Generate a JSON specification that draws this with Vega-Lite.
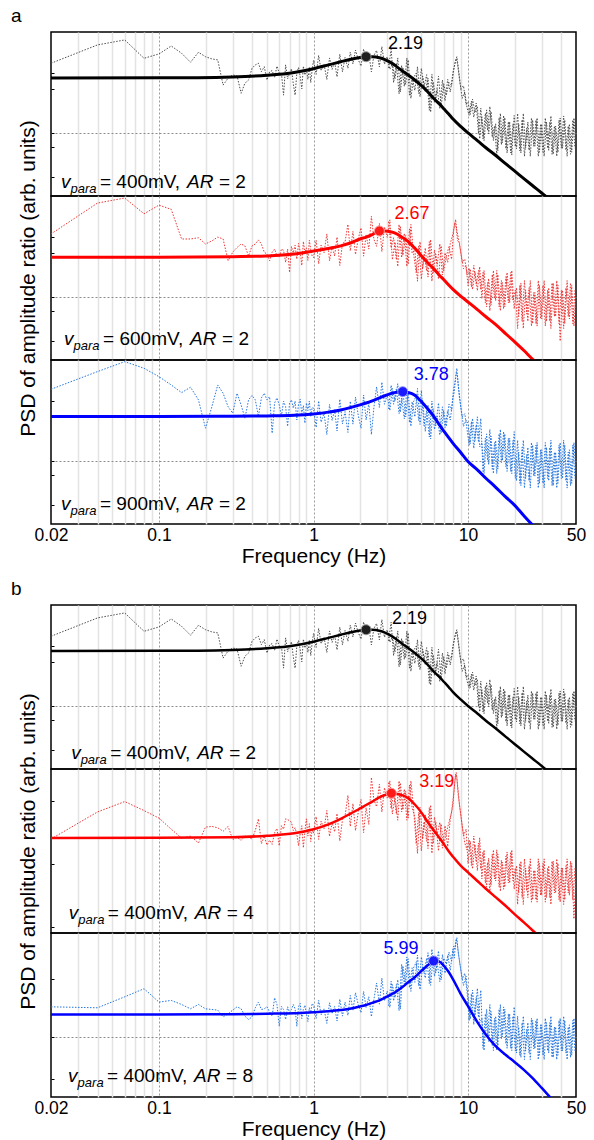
{
"$schema":"https://vega.github.io/schema/vega-lite/v6.json",
"padding":{"left":10,"top":6,"right":5,"bottom":5},
"config":{"font":"Liberation Sans","view":{"stroke":"#000000","strokeWidth":1.5},
"text":{"fontSize":19,"align":"left","baseline":"alphabetic","color":"#000000","font":"Liberation Sans"},
"axis":{"labelFont":"Liberation Sans","titleFont":"Liberation Sans","titleColor":"#000000","labelColor":"#000000","titleFontWeight":"normal"},
"title":{"font":"Liberation Sans","color":"#000000"}},
"datasets":{
"tr":[
{"f":0.02,"a1":0.106,"a2":0.0,"a3":0.138,"b2":0.058,"b3":-0.506},
{"f":0.04,"a1":0.397,"a2":0.49,"a3":0.418,"b2":0.45,"b3":-0.522},
{"f":0.06,"a1":0.476,"a2":0.57,"a3":0.576,"b2":0.6,"b3":-0.34},
{"f":0.08,"a1":0.185,"a2":0.32,"a3":0.471,"b2":0.47,"b3":-0.206},
{"f":0.10,"a1":0.254,"a2":0.457,"a3":0.338,"b2":0.36,"b3":-0.428},
{"f":0.12,"a1":0.38,"a2":0.39,"a3":0.206,"b2":0.2,"b3":-0.4},
{"f":0.14,"a1":0.265,"a2":-0.08,"a3":0.084,"b2":0.07,"b3":-0.467},
{"f":0.16,"a1":0.122,"a2":-0.08,"a3":0.17,"b2":0.1,"b3":-0.539},
{"f":0.18,"a1":0.28,"a2":-0.06,"a3":-0.03,"b2":0.0,"b3":-0.467},
{"f":0.20,"a1":0.21,"a2":-0.16,"a3":-0.48,"b2":0.23,"b3":-0.539},
{"f":0.22,"a1":0.175,"a2":-0.11,"a3":-0.138,"b2":0.24,"b3":-0.55},
{"f":0.24,"a1":0.159,"a2":-0.05,"a3":0.206,"b2":0.22,"b3":-0.561},
{"f":0.26,"a1":-0.24,"a2":-0.08,"a3":0.074,"b2":0.17,"b3":-0.672},
{"f":0.28,"a1":-0.13,"a2":-0.425,"a3":-0.138,"b2":0.24,"b3":-0.622},
{"f":0.30,"a1":-0.08,"a2":-0.29,"a3":-0.243,"b2":0.05,"b3":-0.561},
{"f":0.32,"a1":-0.095,"a2":-0.215,"a3":0.074,"b2":0.08,"b3":-0.506},
{"f":0.34,"a1":-0.37,"a2":-0.16,"a3":-0.11,"b2":0.04,"b3":-0.539},
{"f":0.36,"a1":-0.21,"a2":-0.19,"a3":-0.32,"b2":0.1,"b3":-0.661},
{"f":0.38,"a1":-0.16,"a2":-0.35,"a3":-0.03,"b2":0.08,"b3":-0.717},
{"f":0.40,"a1":0.027,"a2":-0.19,"a3":0.04,"b2":0.06,"b3":-0.672},
{"f":0.42,"a1":0.079,"a2":-0.16,"a3":-0.03,"b2":0.18,"b3":-0.522},
{"f":0.44,"a1":0.106,"a2":-0.095,"a3":-0.29,"b2":0.35,"b3":-0.428},
{"f":0.46,"a1":-0.027,"a2":-0.16,"a3":0.0,"b2":-0.01,"b3":-0.55},
{"f":0.48,"a1":0.052,"a2":-0.29,"a3":0.074,"b2":0.1,"b3":-0.539},
{"f":0.50,"a1":-0.16,"a2":-0.32,"a3":-0.03,"b2":-0.03,"b3":-0.506},
{"f":0.52,"a1":-0.03,"a2":-0.425,"a3":0.02,"b2":0.04,"b3":-0.594},
{"f":0.54,"a1":-0.01,"a2":-0.29,"a3":-0.56,"b2":-0.02,"b3":-0.661},
{"f":0.56,"a1":-0.12,"a2":-0.24,"a3":-0.08,"b2":0.15,"b3":-0.356},
{"f":0.58,"a1":0.06,"a2":-0.35,"a3":0.0,"b2":0.21,"b3":-0.467},
{"f":0.60,"a1":-0.05,"a2":-0.37,"a3":-0.11,"b2":-0.04,"b3":-0.828},
{"f":0.62,"a1":-0.05,"a2":-0.24,"a3":-0.29,"b2":0.25,"b3":-0.5},
{"f":0.64,"a1":-0.4,"a2":-0.26,"a3":-0.05,"b2":0.2,"b3":-0.55},
{"f":0.66,"a1":0.08,"a2":-0.45,"a3":-0.14,"b2":0.35,"b3":-0.717},
{"f":0.68,"a1":-0.14,"a2":-0.24,"a3":-0.45,"b2":0.34,"b3":-0.506},
{"f":0.70,"a1":-0.06,"a2":-0.61,"a3":-0.08,"b2":0.32,"b3":-0.6},
{"f":0.72,"a1":0.02,"a2":-0.2,"a3":-0.03,"b2":0.3,"b3":-0.55},
{"f":0.74,"a1":-0.22,"a2":-0.3,"a3":-0.16,"b2":0.18,"b3":-0.467},
{"f":0.76,"a1":-0.4,"a2":-0.18,"a3":-0.05,"b2":0.22,"b3":-0.539},
{"f":0.78,"a1":-0.05,"a2":-0.4,"a3":-0.35,"b2":0.13,"b3":-0.828},
{"f":0.80,"a1":0.04,"a2":-0.15,"a3":-0.1,"b2":-0.04,"b3":-0.5},
{"f":0.82,"a1":-0.1,"a2":-0.28,"a3":-0.02,"b2":0.13,"b3":-0.45},
{"f":0.84,"a1":-0.3,"a2":-0.5,"a3":-0.25,"b2":0.25,"b3":-0.7},
{"f":0.86,"a1":0.06,"a2":-0.12,"a3":-0.12,"b2":-0.07,"b3":-0.55},
{"f":0.88,"a1":-0.08,"a2":-0.3,"a3":-0.4,"b2":0.18,"b3":-0.48},
{"f":0.90,"a1":0.02,"a2":-0.22,"a3":-0.08,"b2":0.35,"b3":-0.62},
{"f":0.92,"a1":-0.15,"a2":-0.42,"a3":-0.2,"b2":0.1,"b3":-0.75},
{"f":0.94,"a1":0.05,"a2":-0.1,"a3":-0.05,"b2":0.28,"b3":-0.52},
{"f":0.96,"a1":-0.2,"a2":-0.25,"a3":-0.3,"b2":0.02,"b3":-0.6},
{"f":0.98,"a1":0.0,"a2":-0.35,"a3":-0.15,"b2":0.2,"b3":-0.45},
{"f":1.00,"a1":0.15,"a2":-0.375,"a3":-0.16,"b2":0.14,"b3":-0.48},
{"f":1.04,"a1":-0.07,"a2":-0.1,"a3":-0.468,"b2":0.382,"b3":-0.7},
{"f":1.08,"a1":0.23,"a2":-0.475,"a3":-0.048,"b2":0.052,"b3":-0.4},
{"f":1.12,"a1":-0.01,"a2":-0.175,"a3":-0.384,"b2":0.316,"b3":-0.64},
{"f":1.17,"a1":0.09,"a2":-0.3,"a3":-0.244,"b2":0.206,"b3":-0.54},
{"f":1.22,"a1":-0.15,"a2":0.0,"a3":-0.58,"b2":0.47,"b3":-0.78},
{"f":1.27,"a1":0.19,"a2":-0.425,"a3":-0.104,"b2":0.096,"b3":-0.44},
{"f":1.32,"a1":0.01,"a2":-0.2,"a3":-0.356,"b2":0.294,"b3":-0.62},
{"f":1.37,"a1":0.13,"a2":-0.35,"a3":-0.188,"b2":0.162,"b3":-0.5},
{"f":1.42,"a1":-0.11,"a2":-0.05,"a3":-0.524,"b2":0.426,"b3":-0.74},
{"f":1.48,"a1":0.25,"a2":-0.5,"a3":-0.02,"b2":0.03,"b3":-0.38},
{"f":1.54,"a1":-0.03,"a2":-0.15,"a3":-0.412,"b2":0.338,"b3":-0.66},
{"f":1.60,"a1":0.197,"a2":-0.128,"a3":-0.217,"b2":0.39,"b3":-0.428},
{"f":1.67,"a1":0.027,"a2":0.152,"a3":-0.547,"b2":0.69,"b3":-0.648},
{"f":1.73,"a1":0.282,"a2":-0.268,"a3":-0.052,"b2":0.24,"b3":-0.318},
{"f":1.80,"a1":0.095,"a2":0.04,"a3":-0.415,"b2":0.57,"b3":-0.56},
{"f":1.87,"a1":0.316,"a2":-0.324,"a3":0.014,"b2":0.18,"b3":-0.274},
{"f":1.95,"a1":0.163,"a2":-0.072,"a3":-0.283,"b2":0.45,"b3":-0.472},
{"f":2.03,"a1":0.061,"a2":0.096,"a3":-0.481,"b2":0.63,"b3":-0.604},
{"f":2.11,"a1":0.333,"a2":-0.352,"a3":0.047,"b2":0.15,"b3":-0.252},
{"f":2.19,"a1":0.129,"a2":-0.016,"a3":-0.349,"b2":0.51,"b3":-0.516},
{"f":2.28,"a1":0.265,"a2":-0.24,"a3":-0.085,"b2":0.27,"b3":-0.34},
{"f":2.37,"a1":-0.03,"a2":0.28,"a3":-0.58,"b2":0.95,"b3":-0.67},
{"f":2.46,"a1":0.23,"a2":-0.084,"a3":-0.151,"b2":0.625,"b3":-0.384},
{"f":2.56,"a1":0.31,"a2":-0.196,"a3":0.175,"b2":0.525,"b3":-0.111},
{"f":2.67,"a1":0.05,"a2":0.168,"a3":-0.15,"b2":0.85,"b3":-0.462},
{"f":2.77,"a1":0.37,"a2":-0.28,"a3":0.25,"b2":0.45,"b3":-0.03},
{"f":2.88,"a1":0.09,"a2":0.112,"a3":-0.1,"b2":0.8,"b3":-0.408},
{"f":3.00,"a1":0.21,"a2":-0.056,"a3":0.05,"b2":0.65,"b3":-0.246},
{"f":3.12,"a1":0.01,"a2":0.224,"a3":-0.2,"b2":0.9,"b3":-0.516},
{"f":3.24,"a1":0.10,"a2":-0.41,"a3":0.15,"b2":0.42,"b3":-0.138},
{"f":3.37,"a1":-0.14,"a2":-0.13,"a3":-0.05,"b2":0.66,"b3":-0.354},
{"f":3.51,"a1":0.19,"a2":-0.515,"a3":0.225,"b2":0.33,"b3":-0.057},
{"f":3.65,"a1":-0.35,"a2":0.115,"a3":-0.225,"b2":0.87,"b3":-0.543},
{"f":3.79,"a1":0.04,"a2":-0.34,"a3":0.1,"b2":0.48,"b3":0.17},
{"f":3.95,"a1":-0.23,"a2":-0.025,"a3":-0.3,"b2":0.75,"b3":-0.1},
{"f":4.10,"a1":0.16,"a2":-0.48,"a3":0.09,"b2":0.36,"b3":0.29},
{"f":4.27,"a1":-0.45,"a2":0.15,"a3":-0.45,"b2":0.9,"b3":-0.25},
{"f":4.44,"a1":-0.125,"a2":-0.305,"a3":-0.06,"b2":0.51,"b3":0.14},
{"f":4.62,"a1":-0.05,"a2":-0.618,"a3":0.03,"b2":-0.01,"b3":0.23},
{"f":4.80,"a1":-0.375,"a2":-0.189,"a3":-0.36,"b2":0.445,"b3":-0.16},
{"f":4.99,"a1":0.025,"a2":-0.717,"a3":0.12,"b2":-0.115,"b3":0.32},
{"f":5.19,"a1":-0.275,"a2":-0.321,"a3":-0.44,"b2":0.305,"b3":0.06},
{"f":5.40,"a1":-0.075,"a2":-0.585,"a3":-0.2,"b2":0.025,"b3":0.3},
{"f":5.62,"a1":-0.64,"a2":-0.123,"a3":-0.62,"b2":0.515,"b3":-0.12},
{"f":5.84,"a1":-0.07,"a2":-0.75,"a3":-0.05,"b2":-0.15,"b3":0.45},
{"f":6.07,"a1":-0.52,"a2":-0.255,"a3":-0.5,"b2":0.375,"b3":0.0},
{"f":6.32,"a1":-0.31,"a2":-0.486,"a3":-0.29,"b2":0.13,"b3":0.21},
{"f":6.57,"a1":-0.61,"a2":-0.156,"a3":-0.59,"b2":0.3,"b3":-0.09},
{"f":6.83,"a1":-0.16,"a2":-0.651,"a3":-0.14,"b2":-0.075,"b3":0.36},
{"f":7.10,"a1":-0.49,"a2":-0.3,"a3":-0.47,"b2":0.25,"b3":0.05},
{"f":7.39,"a1":-0.15,"a2":-0.45,"a3":-0.2,"b2":-0.05,"b3":0.35},
{"f":7.68,"a1":-0.35,"a2":-0.15,"a3":-0.35,"b2":0.35,"b3":0.1},
{"f":7.99,"a1":-0.05,"a2":0.0,"a3":0.0,"b2":0.55,"b3":0.45},
{"f":8.15,"a1":0.05,"a2":0.12,"a3":0.1,"b2":0.8,"b3":0.3},
{"f":8.31,"a1":0.15,"a2":0.23,"a3":0.3,"b2":1.0,"b3":0.55},
{"f":8.47,"a1":0.21,"a2":0.05,"a3":0.47,"b2":0.95,"b3":0.64},
{"f":8.64,"a1":0.05,"a2":-0.05,"a3":0.2,"b2":0.7,"b3":0.4},
{"f":8.99,"a1":-0.3,"a2":-0.3,"a3":-0.15,"b2":0.4,"b3":0.1},
{"f":9.35,"a1":-0.25,"a2":-0.55,"a3":-0.45,"b2":0.1,"b3":-0.15},
{"f":9.72,"a1":-0.55,"a2":-0.5,"a3":-0.35,"b2":0.2,"b3":0.0},
{"f":10.0,"a1":-0.51,"a2":-0.82,"a3":-0.4,"b2":-0.3,"b3":-0.32},
{"f":10.35,"a1":-0.705,"a2":-0.56,"a3":-0.725,"b2":0.025,"b3":-0.71},
{"f":10.7,"a1":-0.465,"a2":-0.88,"a3":-0.325,"b2":-0.375,"b3":-0.23},
{"f":11.1,"a1":-0.675,"a2":-0.6,"a3":-0.675,"b2":-0.025,"b3":-0.65},
{"f":11.5,"a1":-0.58,"a2":-0.9,"a3":-0.3,"b2":-0.4,"b3":-0.2},
{"f":11.9,"a1":-1.093,"a2":-0.52,"a3":-0.775,"b2":0.075,"b3":-0.77},
{"f":12.3,"a1":-0.742,"a2":-1.028,"a3":-0.71,"b2":-0.52,"b3":-0.698},
{"f":12.7,"a1":-1.12,"a2":-0.58,"a3":-1.2,"b2":-0.1,"b3":-1.23},
{"f":13.2,"a1":-0.634,"a2":-1.156,"a3":-0.57,"b2":-0.64,"b3":-0.546},
{"f":13.6,"a1":-1.012,"a2":-0.708,"a3":-1.06,"b2":-0.22,"b3":-1.078},
{"f":14.1,"a1":-0.661,"a2":-1.124,"a3":-0.605,"b2":-0.61,"b3":-0.584},
{"f":14.6,"a1":-1.12,"a2":-0.58,"a3":-1.2,"b2":-0.1,"b3":-1.23},
{"f":15.1,"a1":-0.855,"a2":-1.06,"a3":-0.675,"b2":-0.55,"b3":-0.66},
{"f":15.6,"a1":-1.284,"a2":-0.644,"a3":-1.13,"b2":-0.16,"b3":-1.154},
{"f":16.2,"a1":-0.69,"a2":-1.22,"a3":-0.5,"b2":-0.7,"b3":-0.47},
{"f":16.7,"a1":-1.152,"a2":-0.772,"a3":-0.99,"b2":-0.28,"b3":-1.002},
{"f":17.3,"a1":-0.756,"a2":-1.156,"a3":-0.57,"b2":-0.64,"b3":-0.546},
{"f":17.9,"a1":-1.317,"a2":-0.612,"a3":-1.165,"b2":-0.13,"b3":-1.192},
{"f":18.6,"a1":-0.822,"a2":-1.092,"a3":-0.64,"b2":-0.58,"b3":-0.622},
{"f":19.2,"a1":-1.35,"a2":-0.58,"a3":-1.2,"b2":-0.1,"b3":-1.23},
{"f":19.9,"a1":-0.723,"a2":-1.188,"a3":-0.535,"b2":-0.67,"b3":-0.508},
{"f":20.6,"a1":-1.251,"a2":-0.854,"a3":-1.316,"b2":-0.329,"b3":-1.272},
{"f":21.3,"a1":-0.855,"a2":-1.31,"a3":-0.86,"b2":-0.725,"b3":-0.84},
{"f":22.0,"a1":-1.317,"a2":-0.778,"a3":-1.392,"b2":-0.263,"b3":-1.344},
{"f":22.8,"a1":-0.69,"a2":-1.5,"a3":-0.67,"b2":-0.89,"b3":-0.66},
{"f":23.6,"a1":-1.242,"a2":-0.892,"a3":-1.278,"b2":-0.362,"b3":-1.236},
{"f":24.4,"a1":-0.826,"a2":-1.386,"a3":-0.784,"b2":-0.791,"b3":-0.768},
{"f":25.3,"a1":-1.37,"a2":-0.74,"a3":-1.43,"b2":-0.23,"b3":-1.38},
{"f":26.2,"a1":-0.794,"a2":-1.424,"a3":-0.746,"b2":-0.824,"b3":-0.732},
{"f":27.1,"a1":-1.21,"a2":-0.93,"a3":-1.24,"b2":-0.395,"b3":-1.2},
{"f":28.0,"a1":-0.762,"a2":-1.462,"a3":-0.708,"b2":-0.857,"b3":-0.696},
{"f":29.0,"a1":-1.306,"a2":-0.816,"a3":-1.354,"b2":-0.296,"b3":-1.308},
{"f":30.0,"a1":-0.858,"a2":-1.348,"a3":-0.822,"b2":-0.758,"b3":-0.804},
{"f":31.1,"a1":-1.37,"a2":-0.74,"a3":-1.43,"b2":-0.23,"b3":-1.38},
{"f":32.2,"a1":-0.826,"a2":-1.386,"a3":-0.784,"b2":-0.791,"b3":-0.768},
{"f":33.3,"a1":-1.274,"a2":-0.854,"a3":-1.316,"b2":-0.329,"b3":-1.272},
{"f":34.4,"a1":-0.73,"a2":-1.5,"a3":-0.67,"b2":-0.89,"b3":-0.66},
{"f":35.6,"a1":-1.338,"a2":-0.778,"a3":-1.392,"b2":-0.263,"b3":-1.344},
{"f":36.9,"a1":-0.89,"a2":-1.31,"a3":-0.86,"b2":-0.725,"b3":-0.84},
{"f":38.2,"a1":-1.306,"a2":-0.816,"a3":-1.354,"b2":-0.296,"b3":-1.308},
{"f":39.5,"a1":-0.762,"a2":-1.7,"a3":-0.708,"b2":-0.857,"b3":-0.696},
{"f":40.9,"a1":-1.242,"a2":-0.892,"a3":-1.278,"b2":-0.362,"b3":-1.236},
{"f":42.3,"a1":-0.794,"a2":-1.424,"a3":-0.746,"b2":-0.824,"b3":-0.732},
{"f":43.8,"a1":-1.37,"a2":-0.74,"a3":-1.43,"b2":-0.23,"b3":-1.38},
{"f":45.3,"a1":-0.858,"a2":-1.348,"a3":-0.822,"b2":-0.758,"b3":-0.804},
{"f":46.9,"a1":-1.306,"a2":-0.816,"a3":-1.354,"b2":-0.296,"b3":-1.308},
{"f":48.5,"a1":-0.762,"a2":-1.462,"a3":-0.708,"b2":-1.1,"b3":-0.696},
{"f":50.0,"a1":-1.21,"a2":-0.93,"a3":-1.24,"b2":-0.395,"b3":-1.2},
{"s":2,"f":3.06,"a1":0.03,"a2":0.196,"a3":-0.175,"b2":0.875,"b3":-0.489},
{"s":2,"f":3.18,"a1":0.33,"a2":-0.224,"a3":0.2,"b2":0.5,"b3":-0.084},
{"s":2,"f":3.30,"a1":-0.2,"a2":-0.06,"a3":-0.1,"b2":0.72,"b3":-0.408},
{"s":2,"f":3.44,"a1":0.1,"a2":-0.41,"a3":0.15,"b2":0.42,"b3":-0.138},
{"s":2,"f":3.58,"a1":-0.38,"a2":0.15,"a3":-0.25,"b2":0.9,"b3":-0.57},
{"s":2,"f":3.72,"a1":0.07,"a2":-0.375,"a3":0.0,"b2":0.45,"b3":0.2},
{"s":2,"f":3.87,"a1":-0.26,"a2":0.01,"a3":-0.33,"b2":0.78,"b3":-0.13},
{"s":2,"f":4.02,"a1":0.19,"a2":-0.515,"a3":0.12,"b2":0.33,"b3":0.32},
{"s":2,"f":4.18,"a1":-0.4,"a2":0.08,"a3":-0.39,"b2":0.84,"b3":-0.19},
{"s":2,"f":4.35,"a1":-0.125,"a2":-0.305,"a3":-0.06,"b2":0.51,"b3":0.14},
{"s":2,"f":4.53,"a1":-0.325,"a2":-0.255,"a3":-0.3,"b2":0.375,"b3":-0.1},
{"s":2,"f":4.71,"a1":0.05,"a2":-0.75,"a3":0.15,"b2":-0.15,"b3":0.35},
{"s":2,"f":4.89,"a1":-0.425,"a2":-0.123,"a3":-0.42,"b2":0.515,"b3":-0.22},
{"s":2,"f":5.09,"a1":-0.1,"a2":-0.552,"a3":-0.03,"b2":0.06,"b3":0.17},
{"s":2,"f":5.29,"a1":-0.35,"a2":-0.222,"a3":-0.53,"b2":0.41,"b3":-0.03},
{"s":2,"f":5.51,"a1":-0.13,"a2":-0.684,"a3":-0.11,"b2":-0.08,"b3":0.39},
{"s":2,"f":5.73,"a1":-0.67,"a2":-0.09,"a3":-0.65,"b2":0.55,"b3":-0.15},
{"s":2,"f":5.95,"a1":-0.19,"a2":-0.618,"a3":-0.17,"b2":-0.01,"b3":0.33},
{"s":2,"f":6.19,"a1":-0.46,"a2":-0.321,"a3":-0.44,"b2":0.305,"b3":0.06},
{"s":2,"f":6.44,"a1":-0.1,"a2":-0.717,"a3":-0.08,"b2":-0.115,"b3":0.42},
{"s":2,"f":6.70,"a1":-0.58,"a2":-0.189,"a3":-0.56,"b2":0.275,"b3":-0.06},
{"s":2,"f":6.96,"a1":-0.22,"a2":-0.585,"a3":-0.2,"b2":-0.025,"b3":0.3},
{"s":2,"f":7.24,"a1":-0.4,"a2":-0.35,"a3":-0.45,"b2":0.15,"b3":0.2},
{"s":2,"f":7.53,"a1":-0.2,"a2":-0.2,"a3":-0.1,"b2":0.3,"b3":0.4},
{"s":2,"f":7.83,"a1":-0.25,"a2":-0.4,"a3":-0.2,"b2":0.45,"b3":0.25},
{"s":2,"f":8.07,"a1":0.0,"a2":0.05,"a3":0.15,"b2":0.7,"b3":0.5},
{"s":2,"f":8.23,"a1":0.1,"a2":0.18,"a3":0.25,"b2":0.9,"b3":0.45},
{"s":2,"f":8.39,"a1":0.18,"a2":0.1,"a3":0.4,"b2":1.02,"b3":0.62},
{"s":2,"f":8.55,"a1":0.1,"a2":-0.1,"a3":0.35,"b2":0.85,"b3":0.5},
{"s":2,"f":8.81,"a1":-0.15,"a2":-0.15,"a3":0.0,"b2":0.55,"b3":0.25},
{"s":2,"f":9.17,"a1":-0.45,"a2":-0.45,"a3":-0.3,"b2":0.25,"b3":-0.05},
{"s":2,"f":9.53,"a1":-0.35,"a2":-0.4,"a3":-0.25,"b2":0.0,"b3":0.05},
{"s":2,"f":9.86,"a1":-0.6,"a2":-0.65,"a3":-0.5,"b2":-0.1,"b3":-0.25},
{"s":2,"f":10.17,"a1":-0.72,"a2":-0.54,"a3":-0.75,"b2":0.05,"b3":-0.74},
{"s":2,"f":10.52,"a1":-0.495,"a2":-0.84,"a3":-0.375,"b2":-0.325,"b3":-0.29},
{"s":2,"f":10.9,"a1":-0.75,"a2":-0.5,"a3":-0.8,"b2":0.1,"b3":-0.8},
{"s":2,"f":11.3,"a1":-0.525,"a2":-0.8,"a3":-0.425,"b2":-0.275,"b3":-0.35},
{"s":2,"f":11.7,"a1":-1.012,"a2":-0.58,"a3":-0.7,"b2":0.0,"b3":-0.68},
{"s":2,"f":12.1,"a1":-0.607,"a2":-0.88,"a3":-0.325,"b2":-0.375,"b3":-0.23},
{"s":2,"f":12.5,"a1":-1.093,"a2":-0.612,"a3":-1.165,"b2":-0.13,"b3":-1.192},
{"s":2,"f":12.95,"a1":-0.688,"a2":-1.092,"a3":-0.64,"b2":-0.58,"b3":-0.622},
{"s":2,"f":13.4,"a1":-0.958,"a2":-0.772,"a3":-0.99,"b2":-0.28,"b3":-1.002},
{"s":2,"f":13.85,"a1":-0.58,"a2":-1.22,"a3":-0.5,"b2":-0.7,"b3":-0.47},
{"s":2,"f":14.35,"a1":-1.066,"a2":-0.644,"a3":-1.13,"b2":-0.16,"b3":-1.154},
{"s":2,"f":14.85,"a1":-0.888,"a2":-1.028,"a3":-0.71,"b2":-0.52,"b3":-0.698},
{"s":2,"f":15.35,"a1":-1.35,"a2":-0.58,"a3":-1.2,"b2":-0.1,"b3":-1.23},
{"s":2,"f":15.9,"a1":-0.756,"a2":-1.156,"a3":-0.57,"b2":-0.64,"b3":-0.546},
{"s":2,"f":16.45,"a1":-1.185,"a2":-0.74,"a3":-1.025,"b2":-0.25,"b3":-1.04},
{"s":2,"f":17.0,"a1":-0.723,"a2":-1.188,"a3":-0.535,"b2":-0.67,"b3":-0.508},
{"s":2,"f":17.6,"a1":-1.251,"a2":-0.676,"a3":-1.095,"b2":-0.19,"b3":-1.116},
{"s":2,"f":18.25,"a1":-0.822,"a2":-1.092,"a3":-0.64,"b2":-0.58,"b3":-0.622},
{"s":2,"f":18.9,"a1":-1.317,"a2":-0.612,"a3":-1.165,"b2":-0.13,"b3":-1.192},
{"s":2,"f":19.55,"a1":-0.855,"a2":-1.06,"a3":-0.675,"b2":-0.55,"b3":-0.66},
{"s":2,"f":20.25,"a1":-1.218,"a2":-0.892,"a3":-1.278,"b2":-0.362,"b3":-1.236},
{"s":2,"f":20.95,"a1":-0.69,"a2":-1.5,"a3":-0.67,"b2":-0.89,"b3":-0.66},
{"s":2,"f":21.65,"a1":-1.284,"a2":-0.816,"a3":-1.354,"b2":-0.296,"b3":-1.308},
{"s":2,"f":22.4,"a1":-0.789,"a2":-1.386,"a3":-0.784,"b2":-0.791,"b3":-0.768},
{"s":2,"f":23.2,"a1":-1.37,"a2":-0.74,"a3":-1.43,"b2":-0.23,"b3":-1.38},
{"s":2,"f":24.0,"a1":-0.922,"a2":-1.272,"a3":-0.898,"b2":-0.692,"b3":-0.876},
{"s":2,"f":24.85,"a1":-1.274,"a2":-0.854,"a3":-1.316,"b2":-0.329,"b3":-1.272},
{"s":2,"f":25.75,"a1":-0.762,"a2":-1.462,"a3":-0.708,"b2":-0.857,"b3":-0.696},
{"s":2,"f":26.65,"a1":-1.21,"a2":-0.93,"a3":-1.24,"b2":-0.395,"b3":-1.2},
{"s":2,"f":27.55,"a1":-0.794,"a2":-1.424,"a3":-0.746,"b2":-0.824,"b3":-0.732},
{"s":2,"f":28.5,"a1":-1.37,"a2":-0.74,"a3":-1.43,"b2":-0.23,"b3":-1.38},
{"s":2,"f":29.5,"a1":-0.858,"a2":-1.348,"a3":-0.822,"b2":-0.758,"b3":-0.804},
{"s":2,"f":30.55,"a1":-1.306,"a2":-0.816,"a3":-1.354,"b2":-0.296,"b3":-1.308},
{"s":2,"f":31.65,"a1":-0.762,"a2":-1.462,"a3":-0.708,"b2":-0.857,"b3":-0.696},
{"s":2,"f":32.75,"a1":-1.242,"a2":-0.892,"a3":-1.278,"b2":-0.362,"b3":-1.236},
{"s":2,"f":33.85,"a1":-0.826,"a2":-1.386,"a3":-0.784,"b2":-0.791,"b3":-0.768},
{"s":2,"f":35.0,"a1":-1.338,"a2":-0.778,"a3":-1.392,"b2":-0.263,"b3":-1.344},
{"s":2,"f":36.25,"a1":-0.89,"a2":-1.31,"a3":-0.86,"b2":-0.725,"b3":-0.84},
{"s":2,"f":37.55,"a1":-1.37,"a2":-0.74,"a3":-1.43,"b2":-0.23,"b3":-1.38},
{"s":2,"f":38.85,"a1":-0.794,"a2":-1.424,"a3":-0.746,"b2":-0.824,"b3":-0.732},
{"s":2,"f":40.2,"a1":-1.242,"a2":-0.892,"a3":-1.278,"b2":-0.362,"b3":-1.236},
{"s":2,"f":41.6,"a1":-0.73,"a2":-1.5,"a3":-0.67,"b2":-0.89,"b3":-0.66},
{"s":2,"f":43.05,"a1":-1.274,"a2":-0.854,"a3":-1.316,"b2":-0.329,"b3":-1.272},
{"s":2,"f":44.55,"a1":-0.89,"a2":-1.31,"a3":-0.86,"b2":-0.725,"b3":-0.84},
{"s":2,"f":46.1,"a1":-1.338,"a2":-0.778,"a3":-1.392,"b2":-0.263,"b3":-1.344},
{"s":2,"f":47.7,"a1":-0.794,"a2":-1.424,"a3":-0.746,"b2":-0.824,"b3":-0.732},
{"s":2,"f":49.25,"a1":-1.242,"a2":-0.892,"a3":-1.278,"b2":-0.362,"b3":-1.236}
],
"fit":[
{"f":0.02,"a1":-0.127,"a2":-0.37,"a3":-0.296,"b2":0.072,"b3":-0.633},
{"f":0.1,"a1":-0.125,"a2":-0.37,"a3":-0.295,"b2":0.075,"b3":-0.632},
{"f":0.3,"a1":-0.11,"a2":-0.36,"a3":-0.29,"b2":0.085,"b3":-0.628},
{"f":0.5,"a1":-0.085,"a2":-0.35,"a3":-0.285,"b2":0.105,"b3":-0.62},
{"f":0.75,"a1":-0.04,"a2":-0.32,"a3":-0.275,"b2":0.14,"b3":-0.612},
{"f":1.0,"a1":0.02,"a2":-0.27,"a3":-0.254,"b2":0.2,"b3":-0.595},
{"f":1.25,"a1":0.08,"a2":-0.23,"a3":-0.225,"b2":0.27,"b3":-0.58},
{"f":1.5,"a1":0.13,"a2":-0.19,"a3":-0.19,"b2":0.35,"b3":-0.56},
{"f":1.75,"a1":0.17,"a2":-0.14,"a3":-0.15,"b2":0.43,"b3":-0.535},
{"f":2.0,"a1":0.197,"a2":-0.08,"a3":-0.11,"b2":0.5,"b3":-0.5},
{"f":2.19,"a1":0.21,"a2":-0.05,"a3":-0.08,"b2":0.55,"b3":-0.475},
{"f":2.4,"a1":0.208,"a2":-0.01,"a3":-0.045,"b2":0.6,"b3":-0.44},
{"f":2.67,"a1":0.193,"a2":0.047,"a3":0.0,"b2":0.66,"b3":-0.4},
{"f":2.9,"a1":0.165,"a2":0.045,"a3":0.035,"b2":0.695,"b3":-0.355},
{"f":3.19,"a1":0.112,"a2":0.03,"a3":0.072,"b2":0.72,"b3":-0.3},
{"f":3.4,"a1":0.065,"a2":0.01,"a3":0.088,"b2":0.715,"b3":-0.26},
{"f":3.78,"a1":-0.02,"a2":-0.06,"a3":0.1,"b2":0.69,"b3":-0.175},
{"f":4.1,"a1":-0.08,"a2":-0.12,"a3":0.087,"b2":0.65,"b3":-0.1},
{"f":4.5,"a1":-0.155,"a2":-0.22,"a3":0.048,"b2":0.565,"b3":-0.02},
{"f":5.0,"a1":-0.25,"a2":-0.35,"a3":-0.06,"b2":0.44,"b3":0.09},
{"f":5.5,"a1":-0.35,"a2":-0.46,"a3":-0.175,"b2":0.3,"b3":0.185},
{"f":5.99,"a1":-0.45,"a2":-0.55,"a3":-0.29,"b2":0.185,"b3":0.255},
{"f":6.5,"a1":-0.535,"a2":-0.65,"a3":-0.42,"b2":0.08,"b3":0.245},
{"f":7.0,"a1":-0.62,"a2":-0.73,"a3":-0.53,"b2":-0.02,"b3":0.17},
{"f":7.5,"a1":-0.7,"a2":-0.81,"a3":-0.63,"b2":-0.12,"b3":0.07},
{"f":8.0,"a1":-0.78,"a2":-0.88,"a3":-0.72,"b2":-0.2,"b3":-0.05},
{"f":9.0,"a1":-0.9,"a2":-0.99,"a3":-0.87,"b2":-0.33,"b3":-0.3},
{"f":10,"a1":-1.0,"a2":-1.08,"a3":-1.01,"b2":-0.425,"b3":-0.495},
{"f":11.5,"a1":-1.12,"a2":-1.2,"a3":-1.14,"b2":-0.55,"b3":-0.76},
{"f":13,"a1":-1.23,"a2":-1.31,"a3":-1.27,"b2":-0.66,"b3":-0.96},
{"f":15,"a1":-1.35,"a2":-1.43,"a3":-1.41,"b2":-0.78,"b3":-1.15},
{"f":17.5,"a1":-1.486,"a2":-1.58,"a3":-1.57,"b2":-0.91,"b3":-1.3},
{"f":20,"a1":-1.602,"a2":-1.71,"a3":-1.7,"b2":-1.03,"b3":-1.42},
{"f":23,"a1":-1.724,"a2":-1.85,"a3":-1.87,"b2":-1.15,"b3":-1.55},
{"f":26,"a1":-1.83,"a2":-1.98,"a3":-2.01,"b2":-1.26,"b3":-1.68},
{"f":30,"a1":-1.952,"a2":-2.12,"a3":-2.15,"b2":-1.38,"b3":-1.85},
{"f":35,"a1":-2.088,"a2":-2.27,"a3":-2.3,"b2":-1.5,"b3":-2.04},
{"f":40,"a1":-2.2,"a2":-2.4,"a3":-2.43,"b2":-1.62,"b3":-2.2}
],
"pk":[
{"p":"a1","f":2.19,"v":0.21,"t":"2.19"},
{"p":"a2","f":2.67,"v":0.047,"t":"2.67"},
{"p":"a3","f":3.78,"v":0.1,"t":"3.78"},
{"p":"b1","f":2.19,"v":0.21,"t":"2.19"},
{"p":"b2","f":3.19,"v":0.72,"t":"3.19"},
{"p":"b3","f":5.99,"v":0.255,"t":"5.99"}
],
"ann":[
{"p":"a1","f":0.0232,"v":-1.873,"mv":"= 400mV,","ar":"= 2"},
{"p":"a2","f":0.0243,"v":-1.762,"mv":"= 600mV,","ar":"= 2"},
{"p":"a3","f":0.0232,"v":-1.778,"mv":"= 900mV,","ar":"= 2"},
{"p":"b1","f":0.027,"v":-1.844,"mv":"= 400mV,","ar":"= 2"},
{"p":"b2","f":0.0261,"v":-1.101,"mv":"= 400mV,","ar":"= 4"},
{"p":"b3","f":0.0258,"v":-1.75,"mv":"= 400mV,","ar":"= 8"}
]
},
"spacing":0,
"bounds":"flush",
"vconcat":[
{"title":{"text":"a","anchor":"start","frame":"group","dx":-40,"offset":-9,"fontSize":19,"fontWeight":"normal","baseline":"alphabetic"},
"width":525,"height":164,"layer":[
{"data":{"name":"tr"},"mark":{"type":"line","clip":true,"strokeWidth":1,"strokeDash":[1.5,1.5],"color":"#4d4d4d"},
"encoding":{"detail":{"field":"s"},"x":{"field":"f","type":"quantitative","scale":{"type":"log","domain":[0.02,50],"nice":false},
"axis":{"values":[0.02,0.03,0.04,0.05,0.06,0.07,0.08,0.09,0.1,0.2,0.3,0.4,0.5,0.6,0.7,0.8,0.9,1,2,3,4,5,6,7,8,9,10,20,30,40,50],"labels":false,"ticks":false,"domain":false,"title":null,"grid":true,
"gridColor":{"condition":{"test":"datum.value==0.1||datum.value==1||datum.value==10","value":"#9a9a9a"},"value":"#e3e3e3"},
"gridDash":{"condition":{"test":"datum.value==0.1||datum.value==1||datum.value==10","value":[2,2]},"value":[]},
"gridWidth":{"condition":{"test":"datum.value==0.1||datum.value==1||datum.value==10","value":1},"value":1.5},
"gridOpacity":{"condition":{"test":"datum.value==0.02||datum.value==50","value":0},"value":1}}},
"y":{"field":"a1","type":"quantitative","scale":{"domain":[-2,0.602],"nice":false},
"axis":{"values":[-1.699,-1.523,-1.398,-1.301,-1.222,-1.155,-1.097,-1.046,-1,-0.699,-0.523,-0.398,-0.301,-0.222,-0.155,-0.097,-0.046,0,0.301,0.477],"labels":false,"title":null,"domain":false,"tickColor":"#000000","tickSize":-3,"grid":true,"gridColor":"#8c8c8c","gridDash":[2,2],
"gridOpacity":{"condition":{"test":"datum.value==-1||datum.value==0||datum.value==1","value":1},"value":0}}}}},
{"data":{"name":"fit"},"mark":{"type":"line","clip":true,"strokeWidth":3,"interpolate":"monotone","color":"#000000"},
"encoding":{"x":{"field":"f","type":"quantitative"},"y":{"field":"a1","type":"quantitative"}}},
{"data":{"name":"pk"},"transform":[{"filter":"datum.p=='a1'"}],
"encoding":{"x":{"field":"f","type":"quantitative"},"y":{"field":"v","type":"quantitative"}},
"layer":[
{"mark":{"type":"point","shape":"circle","filled":true,"size":100,"fill":"#1e1e1e","stroke":"#999999","strokeWidth":1,"opacity":1}},
{"mark":{"type":"text","dx":22,"dy":-7.5,"fontSize":18,"color":"#000000"},"encoding":{"text":{"field":"t"}}}]},
{"data":{"name":"ann"},"transform":[{"filter":"datum.p=='a1'"}],
"encoding":{"x":{"field":"f","type":"quantitative"},"y":{"field":"v","type":"quantitative"}},
"layer":[
{"mark":{"type":"text","text":"v","fontStyle":"italic"}},
{"mark":{"type":"text","text":"para","fontStyle":"italic","fontSize":13,"dx":9.5,"dy":5}},
{"mark":{"type":"text","dx":39},"encoding":{"text":{"field":"mv"}}},
{"mark":{"type":"text","text":"AR","fontStyle":"italic","dx":126}},
{"mark":{"type":"text","dx":158},"encoding":{"text":{"field":"ar"}}}]}
]},
{"width":525,"height":164,"layer":[
{"data":{"name":"tr"},"mark":{"type":"line","clip":true,"strokeWidth":1,"strokeDash":[1.5,1.5],"color":"#ee3535"},
"encoding":{"detail":{"field":"s"},"x":{"field":"f","type":"quantitative","scale":{"type":"log","domain":[0.02,50],"nice":false},
"axis":{"values":[0.02,0.03,0.04,0.05,0.06,0.07,0.08,0.09,0.1,0.2,0.3,0.4,0.5,0.6,0.7,0.8,0.9,1,2,3,4,5,6,7,8,9,10,20,30,40,50],"labels":false,"ticks":false,"domain":false,"title":null,"grid":true,
"gridColor":{"condition":{"test":"datum.value==0.1||datum.value==1||datum.value==10","value":"#9a9a9a"},"value":"#e3e3e3"},
"gridDash":{"condition":{"test":"datum.value==0.1||datum.value==1||datum.value==10","value":[2,2]},"value":[]},
"gridWidth":{"condition":{"test":"datum.value==0.1||datum.value==1||datum.value==10","value":1},"value":1.5},
"gridOpacity":{"condition":{"test":"datum.value==0.02||datum.value==50","value":0},"value":1}}},
"y":{"field":"a2","type":"quantitative","scale":{"domain":[-2,0.602],"nice":false},
"axis":{"values":[-1.699,-1.523,-1.398,-1.301,-1.222,-1.155,-1.097,-1.046,-1,-0.699,-0.523,-0.398,-0.301,-0.222,-0.155,-0.097,-0.046,0,0.301,0.477],"labels":false,"title":"PSD of amplitude ratio (arb. units)","titleFontSize":21,"titlePadding":12,"domain":false,"tickColor":"#000000","tickSize":-3,"grid":true,"gridColor":"#8c8c8c","gridDash":[2,2],
"gridOpacity":{"condition":{"test":"datum.value==-1||datum.value==0||datum.value==1","value":1},"value":0}}}}},
{"data":{"name":"fit"},"mark":{"type":"line","clip":true,"strokeWidth":3,"interpolate":"monotone","color":"#ff0000"},
"encoding":{"x":{"field":"f","type":"quantitative"},"y":{"field":"a2","type":"quantitative"}}},
{"data":{"name":"pk"},"transform":[{"filter":"datum.p=='a2'"}],
"encoding":{"x":{"field":"f","type":"quantitative"},"y":{"field":"v","type":"quantitative"}},
"layer":[
{"mark":{"type":"point","shape":"circle","filled":true,"size":100,"fill":"#ff1a1a","stroke":"#ff9a9a","strokeWidth":1,"opacity":1}},
{"mark":{"type":"text","dx":15,"dy":-12,"fontSize":18,"color":"#ff0000"},"encoding":{"text":{"field":"t"}}}]},
{"data":{"name":"ann"},"transform":[{"filter":"datum.p=='a2'"}],
"encoding":{"x":{"field":"f","type":"quantitative"},"y":{"field":"v","type":"quantitative"}},
"layer":[
{"mark":{"type":"text","text":"v","fontStyle":"italic"}},
{"mark":{"type":"text","text":"para","fontStyle":"italic","fontSize":13,"dx":9.5,"dy":5}},
{"mark":{"type":"text","dx":39},"encoding":{"text":{"field":"mv"}}},
{"mark":{"type":"text","text":"AR","fontStyle":"italic","dx":126}},
{"mark":{"type":"text","dx":158},"encoding":{"text":{"field":"ar"}}}]}
]},
{"width":525,"height":164,"layer":[
{"data":{"name":"tr"},"mark":{"type":"line","clip":true,"strokeWidth":1,"strokeDash":[1.5,1.5],"color":"#2676e0"},
"encoding":{"detail":{"field":"s"},"x":{"field":"f","type":"quantitative","scale":{"type":"log","domain":[0.02,50],"nice":false},
"axis":{"values":[0.02,0.03,0.04,0.05,0.06,0.07,0.08,0.09,0.1,0.2,0.3,0.4,0.5,0.6,0.7,0.8,0.9,1,2,3,4,5,6,7,8,9,10,20,30,40,50],"labels":true,"labelExpr":"datum.value==0.02?'0.02':datum.value==0.1?'0.1':datum.value==1?'1':datum.value==10?'10':datum.value==50?'50':''","labelFontSize":17.5,"labelPadding":2,"labelOverlap":false,"labelFlush":false,"labelBound":false,"ticks":false,"domain":false,"title":"Frequency (Hz)","titleFontSize":21,"titlePadding":2,"grid":true,
"gridColor":{"condition":{"test":"datum.value==0.1||datum.value==1||datum.value==10","value":"#9a9a9a"},"value":"#e3e3e3"},
"gridDash":{"condition":{"test":"datum.value==0.1||datum.value==1||datum.value==10","value":[2,2]},"value":[]},
"gridWidth":{"condition":{"test":"datum.value==0.1||datum.value==1||datum.value==10","value":1},"value":1.5},
"gridOpacity":{"condition":{"test":"datum.value==0.02||datum.value==50","value":0},"value":1}}},
"y":{"field":"a3","type":"quantitative","scale":{"domain":[-2,0.602],"nice":false},
"axis":{"values":[-1.699,-1.523,-1.398,-1.301,-1.222,-1.155,-1.097,-1.046,-1,-0.699,-0.523,-0.398,-0.301,-0.222,-0.155,-0.097,-0.046,0,0.301,0.477],"labels":false,"title":null,"domain":false,"tickColor":"#000000","tickSize":-3,"grid":true,"gridColor":"#8c8c8c","gridDash":[2,2],
"gridOpacity":{"condition":{"test":"datum.value==-1||datum.value==0||datum.value==1","value":1},"value":0}}}}},
{"data":{"name":"fit"},"mark":{"type":"line","clip":true,"strokeWidth":3,"interpolate":"monotone","color":"#0000ff"},
"encoding":{"x":{"field":"f","type":"quantitative"},"y":{"field":"a3","type":"quantitative"}}},
{"data":{"name":"pk"},"transform":[{"filter":"datum.p=='a3'"}],
"encoding":{"x":{"field":"f","type":"quantitative"},"y":{"field":"v","type":"quantitative"}},
"layer":[
{"mark":{"type":"point","shape":"circle","filled":true,"size":100,"fill":"#1a1aff","stroke":"#9a9aff","strokeWidth":1,"opacity":1}},
{"mark":{"type":"text","dx":11,"dy":-12,"fontSize":18,"color":"#0000ff"},"encoding":{"text":{"field":"t"}}}]},
{"data":{"name":"ann"},"transform":[{"filter":"datum.p=='a3'"}],
"encoding":{"x":{"field":"f","type":"quantitative"},"y":{"field":"v","type":"quantitative"}},
"layer":[
{"mark":{"type":"text","text":"v","fontStyle":"italic"}},
{"mark":{"type":"text","text":"para","fontStyle":"italic","fontSize":13,"dx":9.5,"dy":5}},
{"mark":{"type":"text","dx":39},"encoding":{"text":{"field":"mv"}}},
{"mark":{"type":"text","text":"AR","fontStyle":"italic","dx":126}},
{"mark":{"type":"text","dx":158},"encoding":{"text":{"field":"ar"}}}]}
]},
{"width":525,"height":81,"view":{"stroke":null},"data":{"values":[{"f":1}]},"mark":{"type":"point","opacity":0},
"encoding":{"x":{"field":"f","type":"quantitative","axis":null},"y":{"field":"f","type":"quantitative","axis":null}}},
{"title":{"text":"b","anchor":"start","frame":"group","dx":-40,"offset":-9,"fontSize":19,"fontWeight":"normal","baseline":"alphabetic"},
"width":525,"height":164,"layer":[
{"data":{"name":"tr"},"mark":{"type":"line","clip":true,"strokeWidth":1,"strokeDash":[1.5,1.5],"color":"#4d4d4d"},
"encoding":{"detail":{"field":"s"},"x":{"field":"f","type":"quantitative","scale":{"type":"log","domain":[0.02,50],"nice":false},
"axis":{"values":[0.02,0.03,0.04,0.05,0.06,0.07,0.08,0.09,0.1,0.2,0.3,0.4,0.5,0.6,0.7,0.8,0.9,1,2,3,4,5,6,7,8,9,10,20,30,40,50],"labels":false,"ticks":false,"domain":false,"title":null,"grid":true,
"gridColor":{"condition":{"test":"datum.value==0.1||datum.value==1||datum.value==10","value":"#9a9a9a"},"value":"#e3e3e3"},
"gridDash":{"condition":{"test":"datum.value==0.1||datum.value==1||datum.value==10","value":[2,2]},"value":[]},
"gridWidth":{"condition":{"test":"datum.value==0.1||datum.value==1||datum.value==10","value":1},"value":1.5},
"gridOpacity":{"condition":{"test":"datum.value==0.02||datum.value==50","value":0},"value":1}}},
"y":{"field":"a1","type":"quantitative","scale":{"domain":[-2,0.602],"nice":false},
"axis":{"values":[-1.699,-1.523,-1.398,-1.301,-1.222,-1.155,-1.097,-1.046,-1,-0.699,-0.523,-0.398,-0.301,-0.222,-0.155,-0.097,-0.046,0,0.301,0.477],"labels":false,"title":null,"domain":false,"tickColor":"#000000","tickSize":-3,"grid":true,"gridColor":"#8c8c8c","gridDash":[2,2],
"gridOpacity":{"condition":{"test":"datum.value==-1||datum.value==0||datum.value==1","value":1},"value":0}}}}},
{"data":{"name":"fit"},"mark":{"type":"line","clip":true,"strokeWidth":2.5,"interpolate":"monotone","color":"#000000"},
"encoding":{"x":{"field":"f","type":"quantitative"},"y":{"field":"a1","type":"quantitative"}}},
{"data":{"name":"pk"},"transform":[{"filter":"datum.p=='b1'"}],
"encoding":{"x":{"field":"f","type":"quantitative"},"y":{"field":"v","type":"quantitative"}},
"layer":[
{"mark":{"type":"point","shape":"circle","filled":true,"size":100,"fill":"#1e1e1e","stroke":"#999999","strokeWidth":1,"opacity":1}},
{"mark":{"type":"text","dx":26,"dy":-5.5,"fontSize":18,"color":"#000000"},"encoding":{"text":{"field":"t"}}}]},
{"data":{"name":"ann"},"transform":[{"filter":"datum.p=='b1'"}],
"encoding":{"x":{"field":"f","type":"quantitative"},"y":{"field":"v","type":"quantitative"}},
"layer":[
{"mark":{"type":"text","text":"v","fontStyle":"italic"}},
{"mark":{"type":"text","text":"para","fontStyle":"italic","fontSize":13,"dx":9.5,"dy":5}},
{"mark":{"type":"text","dx":39},"encoding":{"text":{"field":"mv"}}},
{"mark":{"type":"text","text":"AR","fontStyle":"italic","dx":126}},
{"mark":{"type":"text","dx":158},"encoding":{"text":{"field":"ar"}}}]}
]},
{"width":525,"height":164,"layer":[
{"data":{"name":"tr"},"mark":{"type":"line","clip":true,"strokeWidth":1,"strokeDash":[1.5,1.5],"color":"#ee3535"},
"encoding":{"detail":{"field":"s"},"x":{"field":"f","type":"quantitative","scale":{"type":"log","domain":[0.02,50],"nice":false},
"axis":{"values":[0.02,0.03,0.04,0.05,0.06,0.07,0.08,0.09,0.1,0.2,0.3,0.4,0.5,0.6,0.7,0.8,0.9,1,2,3,4,5,6,7,8,9,10,20,30,40,50],"labels":false,"ticks":false,"domain":false,"title":null,"grid":true,
"gridColor":{"condition":{"test":"datum.value==0.1||datum.value==1||datum.value==10","value":"#9a9a9a"},"value":"#e3e3e3"},
"gridDash":{"condition":{"test":"datum.value==0.1||datum.value==1||datum.value==10","value":[2,2]},"value":[]},
"gridWidth":{"condition":{"test":"datum.value==0.1||datum.value==1||datum.value==10","value":1},"value":1.5},
"gridOpacity":{"condition":{"test":"datum.value==0.02||datum.value==50","value":0},"value":1}}},
"y":{"field":"b2","type":"quantitative","scale":{"domain":[-1.304,1.072],"nice":false},
"axis":{"values":[-1.222,-1.155,-1.097,-1.046,-1,-0.699,-0.523,-0.398,-0.301,-0.222,-0.155,-0.097,-0.046,0,0.301,0.477,0.602,0.699,0.778,0.845,0.903,0.954,1],"labels":false,"title":"PSD of amplitude ratio (arb. units)","titleFontSize":21,"titlePadding":12,"domain":false,"tickColor":"#000000","tickSize":-3,"grid":true,"gridColor":"#8c8c8c","gridDash":[2,2],
"gridOpacity":{"condition":{"test":"datum.value==-1||datum.value==0||datum.value==1","value":1},"value":0}}}}},
{"data":{"name":"fit"},"mark":{"type":"line","clip":true,"strokeWidth":2.5,"interpolate":"monotone","color":"#ff0000"},
"encoding":{"x":{"field":"f","type":"quantitative"},"y":{"field":"b2","type":"quantitative"}}},
{"data":{"name":"pk"},"transform":[{"filter":"datum.p=='b2'"}],
"encoding":{"x":{"field":"f","type":"quantitative"},"y":{"field":"v","type":"quantitative"}},
"layer":[
{"mark":{"type":"point","shape":"circle","filled":true,"size":100,"fill":"#ff1a1a","stroke":"#ff9a9a","strokeWidth":1,"opacity":1}},
{"mark":{"type":"text","dx":28,"dy":-6,"fontSize":18,"color":"#ff0000"},"encoding":{"text":{"field":"t"}}}]},
{"data":{"name":"ann"},"transform":[{"filter":"datum.p=='b2'"}],
"encoding":{"x":{"field":"f","type":"quantitative"},"y":{"field":"v","type":"quantitative"}},
"layer":[
{"mark":{"type":"text","text":"v","fontStyle":"italic"}},
{"mark":{"type":"text","text":"para","fontStyle":"italic","fontSize":13,"dx":9.5,"dy":5}},
{"mark":{"type":"text","dx":39},"encoding":{"text":{"field":"mv"}}},
{"mark":{"type":"text","text":"AR","fontStyle":"italic","dx":126}},
{"mark":{"type":"text","dx":158},"encoding":{"text":{"field":"ar"}}}]}
]},
{"width":525,"height":164,"layer":[
{"data":{"name":"tr"},"mark":{"type":"line","clip":true,"strokeWidth":1,"strokeDash":[1.5,1.5],"color":"#2676e0"},
"encoding":{"detail":{"field":"s"},"x":{"field":"f","type":"quantitative","scale":{"type":"log","domain":[0.02,50],"nice":false},
"axis":{"values":[0.02,0.03,0.04,0.05,0.06,0.07,0.08,0.09,0.1,0.2,0.3,0.4,0.5,0.6,0.7,0.8,0.9,1,2,3,4,5,6,7,8,9,10,20,30,40,50],"labels":true,"labelExpr":"datum.value==0.02?'0.02':datum.value==0.1?'0.1':datum.value==1?'1':datum.value==10?'10':datum.value==50?'50':''","labelFontSize":17.5,"labelPadding":2,"labelOverlap":false,"labelFlush":false,"labelBound":false,"ticks":false,"domain":false,"title":"Frequency (Hz)","titleFontSize":21,"titlePadding":2,"grid":true,
"gridColor":{"condition":{"test":"datum.value==0.1||datum.value==1||datum.value==10","value":"#9a9a9a"},"value":"#e3e3e3"},
"gridDash":{"condition":{"test":"datum.value==0.1||datum.value==1||datum.value==10","value":[2,2]},"value":[]},
"gridWidth":{"condition":{"test":"datum.value==0.1||datum.value==1||datum.value==10","value":1},"value":1.5},
"gridOpacity":{"condition":{"test":"datum.value==0.02||datum.value==50","value":0},"value":1}}},
"y":{"field":"b3","type":"quantitative","scale":{"domain":[-2,0.717],"nice":false},
"axis":{"values":[-1.699,-1.523,-1.398,-1.301,-1.222,-1.155,-1.097,-1.046,-1,-0.699,-0.523,-0.398,-0.301,-0.222,-0.155,-0.097,-0.046,0,0.301,0.477,0.602,0.699],"labels":false,"title":null,"domain":false,"tickColor":"#000000","tickSize":-3,"grid":true,"gridColor":"#8c8c8c","gridDash":[2,2],
"gridOpacity":{"condition":{"test":"datum.value==-1||datum.value==0||datum.value==1","value":1},"value":0}}}}},
{"data":{"name":"fit"},"mark":{"type":"line","clip":true,"strokeWidth":2.5,"interpolate":"monotone","color":"#0000ff"},
"encoding":{"x":{"field":"f","type":"quantitative"},"y":{"field":"b3","type":"quantitative"}}},
{"data":{"name":"pk"},"transform":[{"filter":"datum.p=='b3'"}],
"encoding":{"x":{"field":"f","type":"quantitative"},"y":{"field":"v","type":"quantitative"}},
"layer":[
{"mark":{"type":"point","shape":"circle","filled":true,"size":100,"fill":"#1a1aff","stroke":"#9a9aff","strokeWidth":1,"opacity":1}},
{"mark":{"type":"text","dx":-15,"dy":-7,"align":"right","fontSize":18,"color":"#0000ff"},"encoding":{"text":{"field":"t"}}}]},
{"data":{"name":"ann"},"transform":[{"filter":"datum.p=='b3'"}],
"encoding":{"x":{"field":"f","type":"quantitative"},"y":{"field":"v","type":"quantitative"}},
"layer":[
{"mark":{"type":"text","text":"v","fontStyle":"italic"}},
{"mark":{"type":"text","text":"para","fontStyle":"italic","fontSize":13,"dx":9.5,"dy":5}},
{"mark":{"type":"text","dx":39},"encoding":{"text":{"field":"mv"}}},
{"mark":{"type":"text","text":"AR","fontStyle":"italic","dx":126}},
{"mark":{"type":"text","dx":158},"encoding":{"text":{"field":"ar"}}}]}
]}
]
}
